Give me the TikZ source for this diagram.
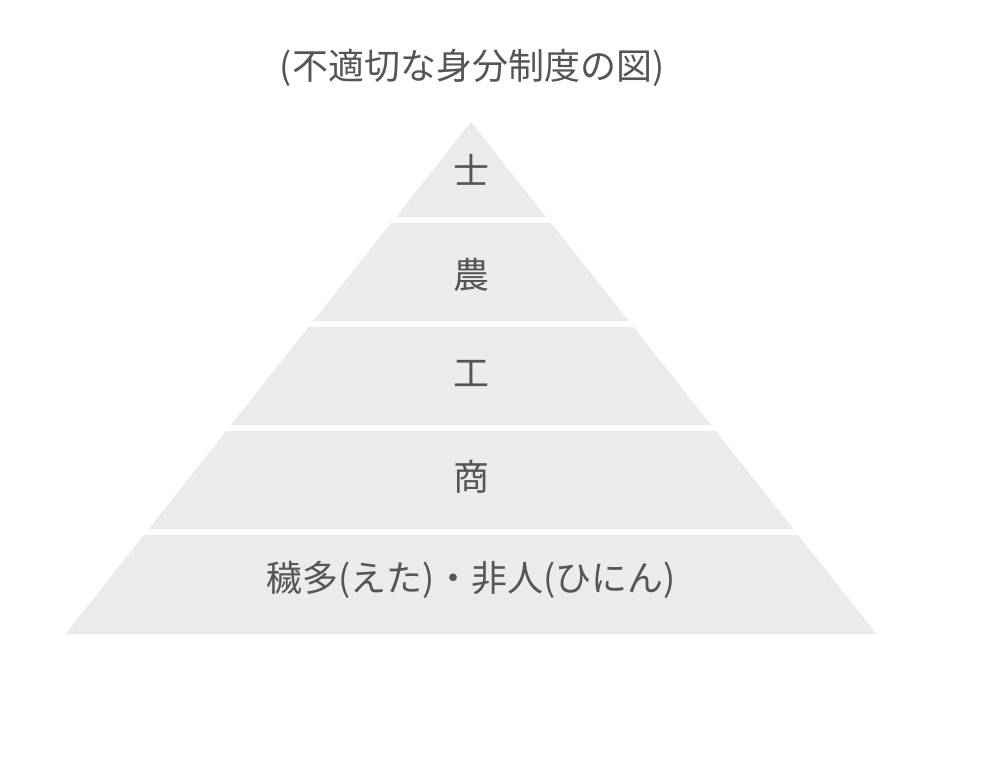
\documentclass[tikz,border=0pt]{standalone}
\usepackage{fontspec}
\setmainfont{Noto Sans CJK JP}
\definecolor{band}{HTML}{EBEBEB}
\definecolor{txt}{HTML}{555555}
\begin{document}
\begin{tikzpicture}[x=1pt,y=-1pt,
  bandstyle/.style={fill=band,draw=none},
  lbl/.style={text=txt,font=\fontsize{36}{40}\selectfont,inner sep=0pt}]
\useasboundingbox (0,0) rectangle (1000,761);
\fill[white] (0,0) rectangle (1000,761);
\def\cx{471}
\fill[bandstyle] (\cx,122) -- (\cx+75,217) -- (\cx-75,217) -- cycle;
\fill[bandstyle] (\cx-80,223) -- (\cx+80,223) -- (\cx+157.6,321) -- (\cx-157.6,321) -- cycle;
\fill[bandstyle] (\cx-162.4,327) -- (\cx+162.4,327) -- (\cx+240,425) -- (\cx-240,425) -- cycle;
\fill[bandstyle] (\cx-244.7,431) -- (\cx+244.7,431) -- (\cx+322.3,529) -- (\cx-322.3,529) -- cycle;
\fill[bandstyle] (\cx-327.1,535) -- (\cx+327.1,535) -- (\cx+405.5,634) -- (\cx-405.5,634) -- cycle;
\node[lbl] (title) at (472,68) {(不適切な身分制度の図)};
\node[lbl] (s1) at (471,170) {士};
\node[lbl] (s2) at (471,275) {農};
\node[lbl] (s3) at (471,373) {工};
\node[lbl] (s4) at (471,477) {商};
\node[lbl] (s5) at (471,580) {穢多(えた)・非人(ひにん)};
\end{tikzpicture}
\end{document}
